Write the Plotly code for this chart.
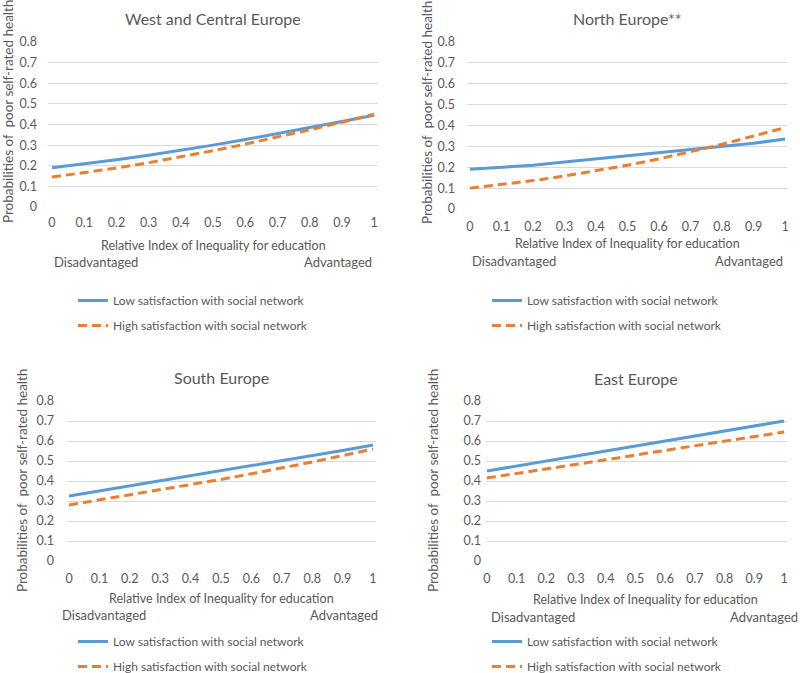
import plotly.graph_objects as go

# ---------------- data ----------------
x_rii = [0, 0.1, 0.2, 0.3, 0.4, 0.5, 0.6, 0.7, 0.8, 0.9, 1]

wc_low = [0.19, 0.209, 0.229, 0.251, 0.275, 0.30, 0.327, 0.355, 0.385, 0.415, 0.445]
wc_high = [0.145, 0.166, 0.189, 0.215, 0.243, 0.273, 0.305, 0.339, 0.374, 0.411, 0.45]

north_low = [0.19, 0.20, 0.21, 0.225, 0.24, 0.255, 0.27, 0.285, 0.30, 0.315, 0.335]
north_high = [0.10, 0.117, 0.136, 0.158, 0.183, 0.21, 0.24, 0.274, 0.31, 0.35, 0.39]

south_low = [0.325, 0.35, 0.375, 0.40, 0.425, 0.45, 0.478, 0.503, 0.528, 0.553, 0.58]
south_high = [0.28, 0.305, 0.33, 0.355, 0.38, 0.408, 0.436, 0.465, 0.495, 0.527, 0.56]

east_low = [0.45, 0.475, 0.50, 0.525, 0.55, 0.575, 0.60, 0.625, 0.65, 0.675, 0.70]
east_high = [0.415, 0.437, 0.46, 0.483, 0.506, 0.53, 0.553, 0.576, 0.599, 0.622, 0.645]

titles = ["West and Central Europe", "North Europe**", "South Europe", "East Europe"]
series_names = ["Low satisfaction with social network", "High satisfaction with social network"]
y_ticks = [0, 0.1, 0.2, 0.3, 0.4, 0.5, 0.6, 0.7, 0.8]
x_ticks = [0, 0.1, 0.2, 0.3, 0.4, 0.5, 0.6, 0.7, 0.8, 0.9, 1]
x_title = "Relative Index of Inequality for education"
y_title = "Probabilities of \u00a0poor self-rated health"
left_label = "Disadvantaged"
right_label = "Advantaged"

# ---------------- layout (pixel geometry) ----------------
W, H = 800, 673
FONT = "Lato, 'Open Sans', sans-serif"
GREY = "#595959"
BLUE = "#5B9BD5"
ORANGE = "#ED7D31"


def fx(p):
    return p / W


def fy(p):
    return 1 - p / H


panels = [
    dict(data=(wc_low, wc_high), gx=(48, 378), gy=(42, 207), xr=(-0.0124, 1.012),
         title_xy=(213, 18), ylab_xy=(8, 112), xt_xy=(213, 245), dis_xy=(52, 262), adv_xy=(374, 262),
         leg_xy=(73, 286), ystand=10, xstand=6),
    dict(data=(north_low, north_high), gx=(467, 787), gy=(42, 209), xr=(-0.0095, 1.006),
         title_xy=(627, 18), ylab_xy=(427, 112), xt_xy=(627, 243), dis_xy=(470, 261), adv_xy=(785, 261),
         leg_xy=(487, 286), ystand=11, xstand=8),
    dict(data=(south_low, south_high), gx=(67, 376), gy=(401, 561), xr=(-0.0066, 1.01),
         title_xy=(221, 377), ylab_xy=(22, 481), xt_xy=(221, 598), dis_xy=(60, 615), adv_xy=(380, 615),
         leg_xy=(73, 627), ystand=12, xstand=8),
    dict(data=(east_low, east_high), gx=(486, 787), gy=(401, 561), xr=(-0.003, 1.01),
         title_xy=(636, 378), ylab_xy=(433, 481), xt_xy=(645, 599), dis_xy=(489, 617), adv_xy=(800, 617),
         leg_xy=(487, 627), ystand=4, xstand=8),
]

fig = go.Figure()
annotations = []
layout_upd = {}

for i, p in enumerate(panels):
    k = "" if i == 0 else str(i + 1)
    xa, ya = "x" + k, "y" + k
    leg = "legend" + k
    low, high = p["data"]
    fig.add_trace(go.Scatter(x=x_rii, y=low, mode="lines", name=series_names[0],
                             line=dict(color=BLUE, width=3), xaxis=xa, yaxis=ya,
                             legend=leg, legendgroup="low" + k, hoverinfo="skip"))
    fig.add_trace(go.Scatter(x=x_rii, y=high, mode="lines", name=series_names[1],
                             line=dict(color=ORANGE, width=3, dash="9px,5px"), xaxis=xa, yaxis=ya,
                             legend=leg, legendgroup="high" + k, hoverinfo="skip"))
    layout_upd["xaxis" + k] = dict(
        domain=[fx(p["gx"][0]), fx(p["gx"][1])], range=list(p["xr"]), anchor=ya,
        tickvals=x_ticks, showgrid=False, zeroline=False, showline=False, ticks="",
        tickfont=dict(family=FONT, size=12.5, color=GREY), ticklabelstandoff=p["xstand"],
        fixedrange=True, automargin=False)
    layout_upd["yaxis" + k] = dict(
        domain=[fy(p["gy"][1]), fy(p["gy"][0])], range=[0, 0.8], anchor=xa,
        tickvals=y_ticks, showgrid=True, gridcolor="#D9D9D9", gridwidth=1, zeroline=False,
        showline=False, ticks="", tickfont=dict(family=FONT, size=12.5, color=GREY),
        ticklabelstandoff=p["ystand"], fixedrange=True, automargin=False)
    layout_upd[leg] = dict(x=fx(p["leg_xy"][0]), y=fy(p["leg_xy"][1]), xanchor="left", yanchor="top",
                           bgcolor="rgba(0,0,0,0)", font=dict(family=FONT, size=12, color=GREY),
                           tracegroupgap=6, orientation="v")
    tx, ty = p["title_xy"]
    annotations.append(dict(text=titles[i], x=fx(tx), y=fy(ty), xref="paper", yref="paper",
                            xanchor="center", yanchor="middle", showarrow=False,
                            font=dict(family=FONT, size=16, color=GREY)))
    lx, ly = p["ylab_xy"]
    annotations.append(dict(text=y_title, x=fx(lx), y=fy(ly), xref="paper", yref="paper",
                            xanchor="center", yanchor="middle", showarrow=False, textangle=-90,
                            font=dict(family=FONT, size=13.5, color=GREY)))
    ax_, ay_ = p["xt_xy"]
    annotations.append(dict(text=x_title, x=fx(ax_), y=fy(ay_), xref="paper", yref="paper",
                            xanchor="center", yanchor="middle", showarrow=False,
                            font=dict(family=FONT, size=12.5, color=GREY)))
    dx, dy = p["dis_xy"]
    annotations.append(dict(text=left_label, x=fx(dx), y=fy(dy), xref="paper", yref="paper",
                            xanchor="left", yanchor="middle", showarrow=False,
                            font=dict(family=FONT, size=13, color=GREY)))
    rx, ry = p["adv_xy"]
    annotations.append(dict(text=right_label, x=fx(rx), y=fy(ry), xref="paper", yref="paper",
                            xanchor="right", yanchor="middle", showarrow=False,
                            font=dict(family=FONT, size=13, color=GREY)))

fig.update_layout(
    width=W, height=H, margin=dict(l=0, r=0, t=0, b=0, autoexpand=False),
    paper_bgcolor="white", plot_bgcolor="white",
    annotations=annotations, **layout_upd,
)

fig.write_html("out.html", config={"displayModeBar": False},
               post_script="document.body.style.margin='0';document.body.style.overflow='hidden';")
